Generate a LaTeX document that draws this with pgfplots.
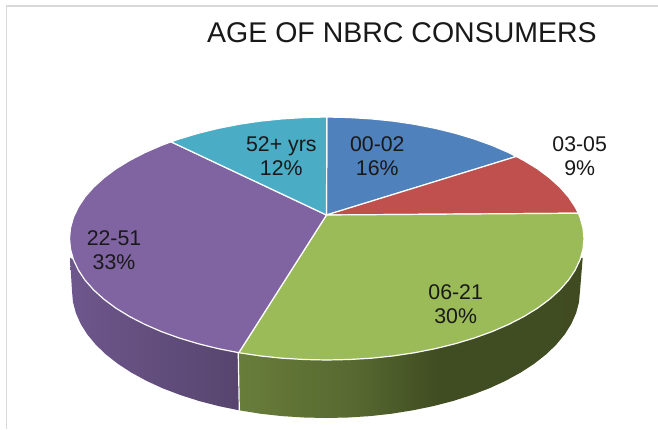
\documentclass[border=0pt]{standalone}
\usepackage{fontspec}
\setmainfont{Liberation Sans}
\usepackage{pgfplots}
\pgfplotsset{compat=1.18}

\definecolor{cblue}{HTML}{4F81BD}
\definecolor{cred}{HTML}{C0504D}
\definecolor{cgreen}{HTML}{9BBB59}
\definecolor{cpurple}{HTML}{8064A2}
\definecolor{cteal}{HTML}{4BACC6}
\definecolor{frame}{HTML}{D9D9D9}

% side walls of the pie, path box maps to 25bp..75bp
\pgfdeclarehorizontalshading{greenwall}{100bp}{rgb(0bp)=(.41,.49,.23); rgb(25bp)=(.41,.49,.23); rgb(42bp)=(.34,.41,.19); rgb(54bp)=(.25,.30,.13); rgb(100bp)=(.25,.29,.13)}
\pgfdeclarehorizontalshading{purplewall}{100bp}{rgb(0bp)=(.43,.34,.55); rgb(25bp)=(.43,.34,.55); rgb(75bp)=(.34,.27,.43); rgb(100bp)=(.34,.27,.43)}

\begin{document}
\begin{tikzpicture}
\begin{axis}[
    scale only axis,
    width=658pt, height=429pt,
    xmin=0, xmax=658,
    ymin=0, ymax=429,
    y dir=reverse,
    hide axis,
]
% page background and frame
\addplot[fill=white, draw=none] coordinates {(0,0)(658,0)(658,429)(0,429)} --cycle;
\addplot[draw=frame, line width=1.8pt] coordinates {(6.5,429)(6.5,6)(658,6)};

% walls
\addplot[shade, shading=purplewall, draw=none] coordinates {
    (70,257.7)(238.5,351)(239.1,410.3)(218.7,406.1)(199,401)(180.3,395)(162.7,388.3)
    (146.4,380.8)(131.4,372.6)(117.9,363.8)(106,354.5)(95.8,344.7)(87.3,334.4)(80.7,323.9)
    (75.9,313.1)(73,302.1)(72,291)} --cycle;
\addplot[shade, shading=greenwall, draw=none] coordinates {
    (239.1,351)(582.7,257.7)(580,291)(579,302.1)(576.1,313.1)(571.3,323.9)(564.7,334.4)
    (556.2,344.7)(546,354.5)(534.1,363.8)(520.6,372.6)(505.6,380.8)(489.3,388.3)(471.7,395)
    (453,401)(433.3,406.1)(412.9,410.3)(391.7,413.7)(370.1,416.1)(348.1,417.5)(326,418)
    (303.9,417.5)(281.9,416.1)(260.3,413.7)(239.1,410.3)} --cycle;
\addplot[draw=white, line width=1.2pt] coordinates {(238.2,351)(239.3,410.5)};

% top face
\addplot[fill=cblue, draw=white, line width=1.2pt] coordinates {
    (326.5,215)(326.8,117)(349.2,117.5)(371.4,118.9)(393.3,121.1)(414.7,124.3)(435.5,128.4)
    (455.4,133.3)(474.3,139)(492.1,145.4)(508.7,152.6)(516.2,156.5)} --cycle;
\addplot[fill=cred, draw=white, line width=1.2pt] coordinates {
    (326.5,215)(516.2,156.5)(523.8,160.4)(537.5,168.8)(549.5,177.8)(559.9,187.2)(568.5,196.9)
    (575.2,207.1)(578.4,213.2)} --cycle;
\addplot[fill=cgreen, draw=white, line width=1.2pt] coordinates {
    (326.5,215)(578.4,213.2)(580.1,217.4)(583,227.9)(584,238.5)(583,249.1)(580.1,259.6)
    (575.2,270)(568.5,280.1)(559.9,289.9)(549.5,299.3)(537.5,308.2)(523.8,316.6)(508.7,324.4)
    (492.1,331.6)(474.3,338)(455.4,343.7)(435.5,348.6)(414.7,352.7)(393.3,355.9)(371.4,358.2)
    (349.2,359.5)(326.8,360)(304.3,359.5)(282.1,358.2)(260.2,355.9)(238.8,352.7)} --cycle;
\addplot[fill=cpurple, draw=white, line width=1.2pt] coordinates {
    (326.5,215)(238.8,352.7)(218,348.6)(198.1,343.7)(179.2,338)(161.4,331.6)(144.9,324.4)
    (129.7,316.6)(116,308.2)(104,299.3)(93.6,289.9)(85,280.1)(78.3,270)(73.4,259.6)(70.5,249.1)
    (69.5,238.5)(70.5,227.9)(73.4,217.4)(78.3,207.1)(85,196.9)(93.6,187.2)(104,177.8)(116,168.8)
    (129.7,160.4)(144.9,152.6)(161.4,145.4)(171,141.8)} --cycle;
\addplot[fill=cteal, draw=white, line width=1.2pt] coordinates {
    (326.5,215)(171,141.8)(179.2,139)(198.1,133.3)(218,128.4)(238.8,124.3)(260.2,121.1)
    (282.1,118.9)(304.3,117.5)(326.8,117)} --cycle;

% text
\node[font=\fontsize{28.5}{30}\selectfont, text=black!90] at (axis cs:402,33) {AGE OF NBRC CONSUMERS};
\tikzset{lab/.style={align=center, text=black!90, font=\fontsize{21.3}{24}\selectfont}}
\node[lab] at (axis cs:281.3,156) {52+ yrs\\12\%};
\node[lab] at (axis cs:377.3,156) {00-02\\16\%};
\node[lab] at (axis cs:579.7,156) {03-05\\9\%};
\node[lab] at (axis cs:455.7,304.5) {06-21\\30\%};
\node[lab] at (axis cs:114,250.5) {22-51\\33\%};
\end{axis}
\end{tikzpicture}
\end{document}
